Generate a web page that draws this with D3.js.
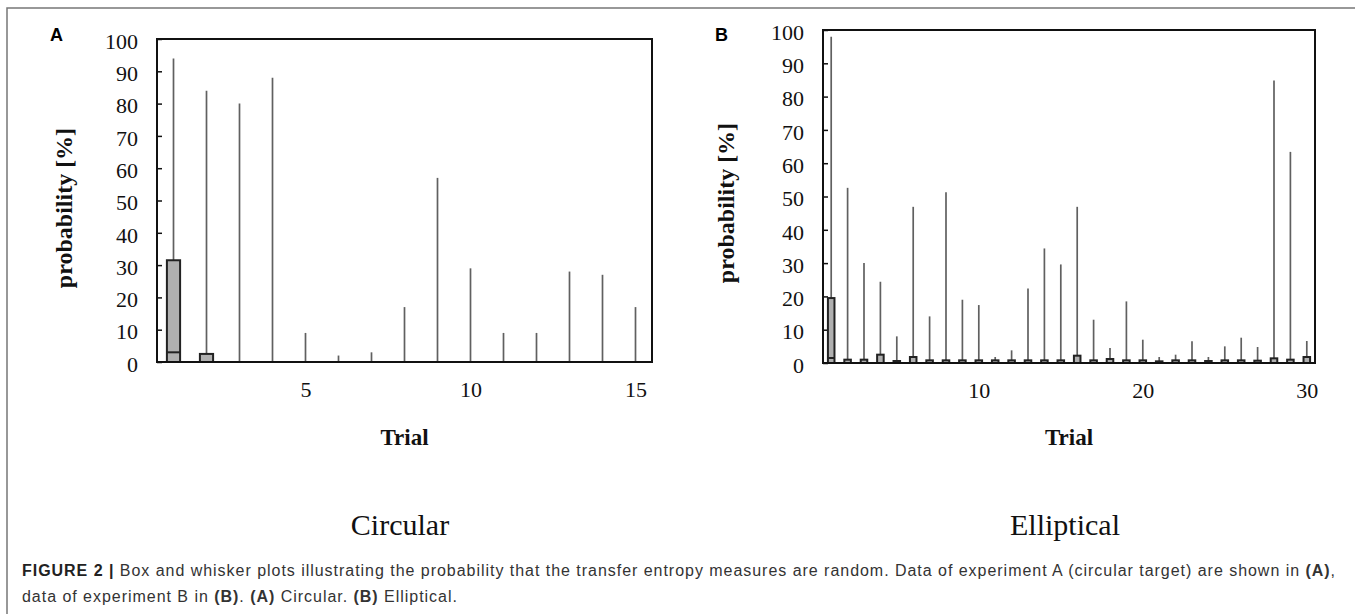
<!DOCTYPE html>
<html>
<head>
<meta charset="utf-8">
<script src="https://cdn.jsdelivr.net/npm/d3@7"></script>
<style>
  body { margin: 0; background: #fff; }
  svg { display: block; }
  .tick text { font-family: "Liberation Serif", "Times New Roman", serif; font-size: 22px; fill: #111; }
</style>
</head>
<body>
<div id="chart"></div>
<script>
// panel A - circular target, 15 trials
const trialsA = [1, 2, 3, 4, 5, 6, 7, 8, 9, 10, 11, 12, 13, 14, 15];
const maxA    = [94, 84, 80, 88, 9, 2, 3, 17, 57, 29, 9, 9, 28, 27, 17];
const q3A     = [31.5, 2.5, 0, 0, 0, 0, 0, 0, 0, 0, 0, 0, 0, 0, 0];
const medA    = [3, 0, 0, 0, 0, 0, 0, 0, 0, 0, 0, 0, 0, 0, 0];
const xTicksA = [5, 10, 15];

// panel B - elliptical target, 30 trials
const trialsB = [1, 2, 3, 4, 5, 6, 7, 8, 9, 10, 11, 12, 13, 14, 15,
                 16, 17, 18, 19, 20, 21, 22, 23, 24, 25, 26, 27, 28, 29, 30];
const maxB    = [98, 52.6, 30, 24.4, 8, 46.9, 14, 51.3, 19, 17.4, 1.8, 3.8, 22.4, 34.4, 29.6,
                 46.9, 13, 4.5, 18.5, 7, 1.8, 2.5, 6.5, 1.8, 5, 7.6, 4.8, 84.8, 63.4, 6.6];
const q3B     = [19.5, 1, 1, 2.5, 0.6, 1.8, 0.8, 0.8, 0.8, 0.8, 0.8, 0.8, 0.8, 0.8, 0.8,
                 2.2, 0.8, 1.2, 0.8, 0.8, 0.5, 0.8, 0.8, 0.6, 0.8, 0.8, 0.7, 1.4, 1, 1.8];
const medB    = [1.5, 0, 0, 0, 0, 0, 0, 0, 0, 0, 0, 0, 0, 0, 0,
                 0, 0, 0, 0, 0, 0, 0, 0, 0, 0, 0, 0, 0, 0, 0];
const xTicksB = [10, 20, 30];

const yTicks = [0, 10, 20, 30, 40, 50, 60, 70, 80, 90, 100];

const W = 1355, H = 614;
const svg = d3.select('#chart').append('svg')
    .attr('width', W)
    .attr('height', H);

// figure frame (left and top edges only)
svg.append('path')
    .attr('d', `M7,${H} V8 H${W}`)
    .attr('fill', 'none')
    .attr('stroke', '#777')
    .attr('stroke-width', 1.5);

function drawPanel(opts) {
    const { trials, max, q3, med, xTicks, left, right, top, bottom, letter, letterX, titleX, labelPad } = opts;

    const x = d3.scaleLinear().domain([0.5, trials.length + 0.5]).range([left, right]);
    const y = d3.scaleLinear().domain([0, 100]).range([bottom, top]);
    const step = x(2) - x(1);
    const boxW = step * 0.4;

    const g = svg.append('g');

    // y axis, ticks point inward
    const yAxis = d3.axisLeft(y)
        .tickValues(yTicks)
        .tickSizeInner(-5)
        .tickSizeOuter(0)
        .tickPadding(labelPad);
    const ya = g.append('g')
        .attr('transform', `translate(${left},0)`)
        .call(yAxis);
    ya.select('.domain').remove();
    ya.selectAll('.tick line').attr('stroke', '#111').attr('stroke-width', 1.5);
    ya.selectAll('.tick text').attr('dy', '0.42em');

    // x axis, labels only
    const xAxis = d3.axisBottom(x)
        .tickValues(xTicks)
        .tickSize(0)
        .tickPadding(19);
    const xa = g.append('g')
        .attr('transform', `translate(0,${bottom})`)
        .call(xAxis);
    xa.select('.domain').remove();

    // whiskers
    g.append('g').selectAll('line')
        .data(trials)
        .join('line')
        .attr('x1', d => x(d))
        .attr('x2', d => x(d))
        .attr('y1', y(0))
        .attr('y2', (d, i) => y(max[i]))
        .attr('stroke', '#606060')
        .attr('stroke-width', 1.7);

    // boxes
    const boxes = trials.map((t, i) => ({ t: t, q3: q3[i], med: med[i] })).filter(d => d.q3 > 0);
    g.append('g').selectAll('rect')
        .data(boxes)
        .join('rect')
        .attr('x', d => x(d.t) - boxW / 2)
        .attr('width', boxW)
        .attr('y', d => y(d.q3))
        .attr('height', d => y(0) - y(d.q3))
        .attr('fill', '#b0b0b0')
        .attr('stroke', '#222')
        .attr('stroke-width', 2);

    // medians
    g.append('g').selectAll('line')
        .data(boxes.filter(d => d.med > 0))
        .join('line')
        .attr('x1', d => x(d.t) - boxW / 2)
        .attr('x2', d => x(d.t) + boxW / 2)
        .attr('y1', d => y(d.med))
        .attr('y2', d => y(d.med))
        .attr('stroke', '#222')
        .attr('stroke-width', 2);

    // plot frame
    g.append('rect')
        .attr('x', left)
        .attr('y', top)
        .attr('width', right - left)
        .attr('height', bottom - top)
        .attr('fill', 'none')
        .attr('stroke', '#111')
        .attr('stroke-width', 2);

    // panel letter
    svg.append('text')
        .attr('x', letterX)
        .attr('y', 41)
        .style('font-family', '"Liberation Sans", Arial, sans-serif')
        .style('font-weight', 'bold')
        .style('font-size', '18px')
        .text(letter);

    // axis titles
    svg.append('text')
        .attr('transform', `translate(${opts.yTitleX},${opts.yTitleY}) rotate(-90)`)
        .attr('text-anchor', 'middle')
        .style('font-family', '"Liberation Serif", "Times New Roman", serif')
        .style('font-weight', 'bold')
        .style('font-size', '24px')
        .attr('fill', '#111')
        .text('probability [%]');

    svg.append('text')
        .attr('x', (left + right) / 2)
        .attr('y', 445)
        .attr('text-anchor', 'middle')
        .style('font-family', '"Liberation Serif", "Times New Roman", serif')
        .style('font-weight', 'bold')
        .style('font-size', '23px')
        .attr('fill', '#111')
        .text('Trial');

    // panel title under the chart
    svg.append('text')
        .attr('x', titleX)
        .attr('y', 535)
        .attr('text-anchor', 'middle')
        .style('font-family', '"Liberation Serif", "Times New Roman", serif')
        .style('font-size', '30px')
        .attr('fill', '#111')
        .text(opts.title);
}

drawPanel({
    trials: trialsA, max: maxA, q3: q3A, med: medA, xTicks: xTicksA,
    left: 157, right: 652, top: 39, bottom: 362,
    letter: 'A', letterX: 50, labelPad: 19,
    yTitleX: 72, yTitleY: 208,
    title: 'Circular', titleX: 400
});

drawPanel({
    trials: trialsB, max: maxB, q3: q3B, med: medB, xTicks: xTicksB,
    left: 823, right: 1315, top: 30, bottom: 363,
    letter: 'B', letterX: 715, labelPad: 19,
    yTitleX: 734, yTitleY: 203,
    title: 'Elliptical', titleX: 1065
});

// caption
const caption = svg.append('g')
    .style('font-family', '"Liberation Sans", Arial, sans-serif')
    .style('font-size', '16px')
    .attr('fill', '#333');

const line1 = caption.append('text').attr('x', 22).attr('y', 576);
line1.append('tspan').style('font-weight', 'bold').attr('fill', '#222').text('FIGURE 2 | ');
line1.append('tspan').text('Box and whisker plots illustrating the probability that the transfer entropy measures are random. Data of experiment A (circular target) are shown in ');
line1.append('tspan').style('font-weight', 'bold').text('(A)');
line1.append('tspan').text(',');

const line2 = caption.append('text').attr('x', 22).attr('y', 602);
line2.append('tspan').text('data of experiment B in ');
line2.append('tspan').style('font-weight', 'bold').text('(B)');
line2.append('tspan').text('. ');
line2.append('tspan').style('font-weight', 'bold').text('(A)');
line2.append('tspan').text(' Circular. ');
line2.append('tspan').style('font-weight', 'bold').text('(B)');
line2.append('tspan').text(' Elliptical.');

// the caption is set a little loose: first line runs to the right edge
const target = 1336 - 22;
const natural = line1.node().getComputedTextLength();
const chars = line1.text().length;
const spacing = Math.max(0, (target - natural) / chars);
caption.style('letter-spacing', spacing + 'px');
</script>
</body>
</html>
